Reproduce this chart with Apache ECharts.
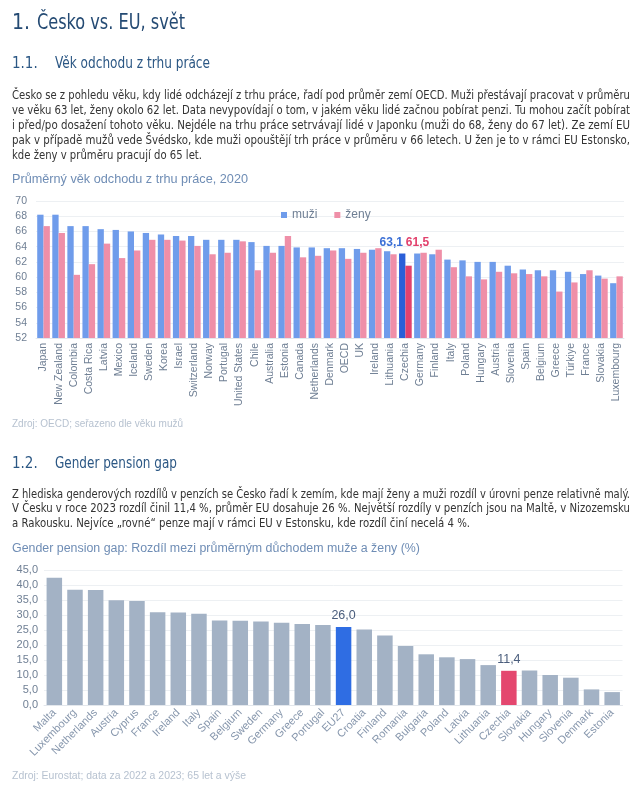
<!DOCTYPE html>
<html><head><meta charset="utf-8">
<script src="https://cdn.jsdelivr.net/npm/echarts@6/dist/echarts.min.js"></script>
<style>
html,body{margin:0;padding:0;background:#fff;width:640px;height:791px;overflow:hidden;}
#chart{position:absolute;left:0;top:0;width:640px;height:791px;}
.t{position:absolute;white-space:nowrap;transform-origin:0 0;display:inline-block;}
.nar{font-family:"Liberation Sans Narrow","DejaVu Sans Condensed","Arial Narrow",sans-serif;}
.h1{font-size:21px;line-height:21px;color:#244a73;}
.h2{font-size:15px;line-height:15px;color:#2b5784;}
.p{font-size:13px;line-height:13px;color:#333;}
.ct{font-family:"Liberation Sans",Arial,sans-serif;font-size:12.5px;line-height:13px;color:#6f8db5;}
.src{font-family:"Liberation Sans",Arial,sans-serif;font-size:10px;line-height:10px;color:#b7c2d0;}
</style></head>
<body>
<div id="chart"></div>
<div id="txt"></div>
<script>
// ---------- data ----------
const countries1 = ["Japan","New Zealand","Colombia","Costa Rica","Latvia","Mexico","Iceland","Sweden","Korea","Israel","Switzerland","Norway","Portugal","United States","Chile","Australia","Estonia","Canada","Netherlands","Denmark","OECD","UK","Ireland","Lithuania","Czechia","Germany","Finland","Italy","Poland","Hungary","Austria","Slovenia","Spain","Belgium","Greece","Türkiye","France","Slovakia","Luxembourg"];
const men = [68.2,68.2,66.7,66.7,66.3,66.2,66.0,65.8,65.6,65.4,65.4,64.9,64.9,64.9,64.6,64.1,64.1,63.9,63.9,63.8,63.8,63.7,63.6,63.4,63.1,63.1,63.0,62.3,62.2,62.0,62.0,61.5,61.0,60.9,60.9,60.7,60.4,60.2,59.2];
const women = [66.7,65.8,60.3,61.7,64.4,62.5,63.5,64.9,64.9,64.8,64.1,63.0,63.2,64.7,60.9,63.2,65.4,62.6,62.8,63.5,62.4,63.2,63.8,63.0,61.5,63.2,63.6,61.3,60.1,59.7,60.7,60.5,60.4,60.1,58.1,59.3,60.9,59.8,60.1];
const yTicks1 = {min:52, max:70, interval:2};
const legend1 = ["muži","ženy"];

const countries2 = ["Malta","Luxembourg","Netherlands","Austria","Cyprus","France","Ireland","Italy","Spain","Belgium","Sweden","Germany","Greece","Portugal","EU27","Croatia","Finland","Romania","Bulgaria","Poland","Latvia","Lithuania","Czechia","Slovakia","Hungary","Slovenia","Denmark","Estonia"];
const gap = [42.4,38.4,38.3,34.9,34.7,30.9,30.8,30.4,28.2,28.1,27.8,27.4,27.0,26.7,26.0,25.2,23.2,19.7,16.9,15.9,15.3,13.3,11.4,11.5,10.0,9.1,5.2,4.3];
const yTicks2 = {min:0, max:45, interval:5};

// ---------- text ----------
const texts = [
 {c:"nar h1", x:12, y:12, s:"1."},
 {c:"nar h1", x:37, y:12, s:"Česko vs. EU, svět", w:148},
 {c:"nar h2", x:12, y:55.5, s:"1.1."},
 {c:"nar h2", x:55, y:55.5, s:"Věk odchodu z trhu práce", w:155},
 {c:"nar p", x:12, y:87.5, s:"Česko se z pohledu věku, kdy lidé odcházejí z trhu práce, řadí pod průměr zemí OECD. Muži přestávají pracovat v průměru", j:618},
 {c:"nar p", x:12, y:102.6, s:"ve věku 63 let, ženy okolo 62 let. Data nevypovídají o tom, v jakém věku lidé začnou pobírat penzi. Tu mohou začít pobírat", j:618},
 {c:"nar p", x:12, y:117.7, s:"i před/po dosažení tohoto věku. Nejdéle na trhu práce setrvávají lidé v Japonku (muži do 68, ženy do 67 let). Ze zemí EU", j:618},
 {c:"nar p", x:12, y:132.8, s:"pak v případě mužů vede Švédsko, kde muži opouštějí trh práce v průměru v 66 letech. U žen je to v rámci EU Estonsko,", j:618},
 {c:"nar p", x:12, y:147.9, s:"kde ženy v průměru pracují do 65 let.", w:190},
 {c:"ct", x:12, y:172.5, s:"Průměrný věk odchodu z trhu práce, 2020", w:236},
 {c:"src", x:12, y:418.5, s:"Zdroj: OECD; seřazeno dle věku mužů", w:171},
 {c:"nar h2", x:12, y:455.5, s:"1.2."},
 {c:"nar h2", x:55, y:455.5, s:"Gender pension gap", w:122},
 {c:"nar p", x:12, y:486.5, s:"Z hlediska genderových rozdílů v penzích se Česko řadí k zemím, kde mají ženy a muži rozdíl v úrovni penze relativně malý.", j:618},
 {c:"nar p", x:12, y:501.3, s:"V Česku v roce 2023 rozdíl činil 11,4 %, průměr EU dosahuje 26 %. Největší rozdíly v penzích jsou na Maltě, v Nizozemsku", j:618},
 {c:"nar p", x:12, y:516.1, s:"a Rakousku. Nejvíce „rovné“ penze mají v rámci EU v Estonsku, kde rozdíl činí necelá 4 %.", w:458},
 {c:"ct", x:12, y:541.5, s:"Gender pension gap: Rozdíl mezi průměrným důchodem muže a ženy (%)", w:408},
 {c:"src", x:12, y:771, s:"Zdroj: Eurostat; data za 2022 a 2023; 65 let a výše", w:234}
];
const box = document.getElementById('txt');
texts.forEach(t=>{
  const d = document.createElement('div');
  d.className = 't ' + t.c;
  d.style.left = t.x + 'px'; d.style.top = t.y + 'px';
  d.textContent = t.s;
  box.appendChild(d);
  const nat = d.getBoundingClientRect().width;
  if (t.j) {
    const spaces = (t.s.match(/ /g)||[]).length;
    if (nat <= t.j) { d.style.wordSpacing = ((t.j - nat)/spaces) + 'px'; }
    else { d.style.transform = 'scaleX(' + (t.j/nat) + ')'; }
  } else if (t.w) {
    d.style.transform = 'scaleX(' + (t.w/nat) + ')';
  }
});

// ---------- chart ----------
const FONT = '"Liberation Sans", Arial, sans-serif';
const CZ = countries1.indexOf('Czechia');
const menData = men.map((v,i)=> i===CZ ? {value:v, itemStyle:{color:'#2a5fd8'},
  label:{show:true, position:'top', offset:[-11,0], formatter:'63,1', color:'#3b6fd6', fontWeight:'bold', fontSize:12, fontFamily:FONT}} : v);
const womenData = women.map((v,i)=> i===CZ ? {value:v, itemStyle:{color:'#e2416d'},
  label:{show:true, position:'top', offset:[9,-12], formatter:'61,5', color:'#e2416d', fontWeight:'bold', fontSize:12, fontFamily:FONT}} : v);
const fmt = v => (Math.round(v*10)/10).toFixed(1).replace('.', ',');
const EU = countries2.indexOf('EU27'), CZ2 = countries2.indexOf('Czechia');
const gapData = gap.map((v,i)=>{
  if (i===EU) return {value:v, itemStyle:{color:'#2f6de3'}, label:{show:true, position:'top', formatter:p=>fmt(p.value), color:'#4a5d7c', fontSize:12.5, fontFamily:FONT}};
  if (i===CZ2) return {value:v, itemStyle:{color:'#e4476f'}, label:{show:true, position:'top', formatter:p=>fmt(p.value), color:'#4a5d7c', fontSize:12.5, fontFamily:FONT}};
  return v;
});

const chart = echarts.init(document.getElementById('chart'), null, {renderer:'canvas'});
chart.setOption({
  animation:false,
  textStyle:{fontFamily:FONT},
  legend:{data:legend1, left:276, top:204, itemWidth:6, itemHeight:6, icon:'rect', itemGap:17,
    textStyle:{fontSize:12, color:'#6f7f94', fontFamily:FONT}},
  grid:[
    {left:36, top:201, width:588, height:137, containLabel:false},
    {left:44, top:570, width:578.5, height:135, containLabel:false}
  ],
  xAxis:[
    {type:'category', gridIndex:0, data:countries1,
      axisTick:{show:false}, axisLine:{lineStyle:{color:'#e3e7ec'}},
      axisLabel:{rotate:90, interval:0, fontSize:10.5, color:'#6f7f94', margin:5, fontFamily:FONT}},
    {type:'category', gridIndex:1, data:countries2,
      axisTick:{show:false}, axisLine:{lineStyle:{color:'#e3e7ec'}},
      axisLabel:{rotate:45, interval:0, fontSize:11, color:'#8797ad', margin:6, fontFamily:FONT}}
  ],
  yAxis:[
    {type:'value', gridIndex:0, min:yTicks1.min, max:yTicks1.max, interval:yTicks1.interval,
      axisLine:{show:false}, axisTick:{show:false},
      splitLine:{lineStyle:{color:'#edf0f3'}},
      axisLabel:{fontSize:10.5, color:'#6f7f94', margin:9, fontFamily:FONT}},
    {type:'value', gridIndex:1, min:yTicks2.min, max:yTicks2.max, interval:yTicks2.interval,
      axisLine:{show:false}, axisTick:{show:false},
      splitLine:{lineStyle:{color:'#edf0f3'}},
      axisLabel:{fontSize:11, color:'#6f7f94', margin:6, formatter:v=>fmt(v), fontFamily:FONT}}
  ],
  series:[
    {name:'muži', type:'bar', xAxisIndex:0, yAxisIndex:0, data:menData, itemStyle:{color:'#6f9ceb'}, barGap:'0%', barCategoryGap:'16%'},
    {name:'ženy', type:'bar', xAxisIndex:0, yAxisIndex:0, data:womenData, itemStyle:{color:'#ef8fa8'}, barGap:'0%', barCategoryGap:'16%'},
    {name:'gap', type:'bar', xAxisIndex:1, yAxisIndex:1, data:gapData, itemStyle:{color:'#a3b2c5'}, barCategoryGap:'25%'}
  ]
});
</script>
</body></html>
